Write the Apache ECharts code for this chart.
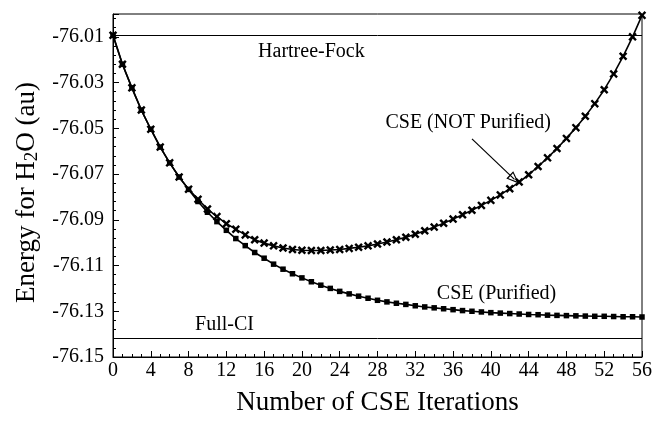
<!DOCTYPE html>
<html>
<head>
<meta charset="utf-8">
<script src="https://cdn.jsdelivr.net/npm/echarts@6/dist/echarts.min.js"></script>
<style>
html,body{margin:0;padding:0;background:#fff;}
#chart{width:655px;height:421px;}
</style>
</head>
<body>
<div id="chart"></div>
<script>
const iterations = Array.from({length: 57}, (_, i) => i);
const purified = [
  -76.0093, -76.0220, -76.0323, -76.0420, -76.0504, -76.0582, -76.0651, -76.0713, -76.0767,
  -76.0820, -76.0867, -76.0908, -76.0946, -76.0982, -76.1013, -76.1043, -76.1068, -76.1094,
  -76.1116, -76.1136, -76.1154, -76.1171, -76.1186, -76.1200, -76.1213, -76.1224, -76.1234,
  -76.1243, -76.1252, -76.1259, -76.1265, -76.1270, -76.1276, -76.1281, -76.1285, -76.1289,
  -76.1293, -76.1297, -76.1300, -76.1303, -76.1306, -76.1308, -76.1310, -76.1312, -76.1314,
  -76.1315, -76.1317, -76.1318, -76.1319, -76.1320, -76.1321, -76.1322, -76.1322, -76.1323,
  -76.1324, -76.1324, -76.1325
];
const notPurified = [
  -76.0093, -76.0220, -76.0323, -76.0420, -76.0504, -76.0582, -76.0651, -76.0713, -76.0766,
  -76.0810, -76.0853, -76.0886, -76.0917, -76.0941, -76.0966, -76.0987, -76.1002, -76.1014,
  -76.1023, -76.1030, -76.1033, -76.1034, -76.1034, -76.1032, -76.1030, -76.1025, -76.1020,
  -76.1014, -76.1006, -76.0997, -76.0987, -76.0976, -76.0963, -76.0948, -76.0932, -76.0915,
  -76.0897, -76.0878, -76.0858, -76.0837, -76.0815, -76.0791, -76.0764, -76.0735, -76.0703,
  -76.0667, -76.0629, -76.0588, -76.0544, -76.0497, -76.0447, -76.0392, -76.0331, -76.0262,
  -76.0185, -76.0100, -76.0006
];
const hartreeFock = -76.0092;
const fullCI = -76.1418;
const xTicks = {min: 0, max: 56, interval: 4};
const yTicks = {min: -76.15, max: -76.00, interval: 0.02};
const labels = [
  {text: 'Hartree-Fock', x: 21.0, y: -76.0167},
  {text: 'Full-CI', x: 11.8, y: -76.1361},
  {text: 'CSE (NOT Purified)', x: 37.6, y: -76.0477},
  {text: 'CSE (Purified)', x: 40.6, y: -76.1223}
];
const arrow = {from: [38.0, -76.0546], to: [42.5, -76.0723]};

const FONT = "'Liberation Serif', 'Times New Roman', serif";
const chart = echarts.init(document.getElementById('chart'));
const pair = (arr) => arr.map((v, i) => [iterations[i], v]);
const xShape = 'path://M0,2L2,0L5,3L8,0L10,2L7,5L10,8L8,10L5,7L2,10L0,8L3,5Z';
const hollowTri = 'path://M5,0L10,14L0,14ZM5,3.5L1.7,12.6L8.3,12.6Z';

chart.setOption({
  animation: false,
  backgroundColor: '#fff',
  grid: {left: 113, right: 12, top: 14, bottom: 60, show: true, borderColor: '#000', borderWidth: 1},
  xAxis: {
    type: 'value', min: xTicks.min, max: xTicks.max, interval: xTicks.interval,
    name: 'Number of CSE Iterations', nameLocation: 'middle', nameGap: 32,
    nameTextStyle: {fontFamily: FONT, fontSize: 27, color: '#000'},
    axisLine: {show: true, lineStyle: {color: '#000', width: 1}},
    axisTick: {show: true, inside: true, length: 6, lineStyle: {color: '#000'}},
    minorTick: {show: true, splitNumber: 4, length: 3, lineStyle: {color: '#000'}},
    axisLabel: {fontFamily: FONT, fontSize: 20, color: '#000', margin: 4},
    splitLine: {show: false}
  },
  yAxis: {
    type: 'value', min: yTicks.min, max: yTicks.max, interval: yTicks.interval,
    name: 'Energy for H{sub|2}O (au)', nameLocation: 'middle', nameGap: 71, nameRotate: 90,
    nameTextStyle: {fontFamily: FONT, fontSize: 27, color: '#000', padding: [0, 14, 0, 0],
      rich: {sub: {fontFamily: FONT, fontSize: 19, color: '#000', verticalAlign: 'bottom', padding: [10, 0, 0, 0]}}},
    axisLine: {show: true, lineStyle: {color: '#000', width: 1}},
    axisTick: {show: true, inside: true, length: 6, lineStyle: {color: '#000'}},
    minorTick: {show: true, splitNumber: 5, length: 3, lineStyle: {color: '#000'}},
    axisLabel: {fontFamily: FONT, fontSize: 20, color: '#000', margin: 9,
      formatter: (v) => (v > -76.005 ? '' : v.toFixed(2))},
    splitLine: {show: false}
  },
  series: [
    {
      type: 'line', data: pair(purified), symbol: 'rect', symbolSize: 5.5,
      lineStyle: {color: '#000', width: 1.6}, itemStyle: {color: '#000'}, z: 3,
      markLine: {
        silent: true, symbol: ['none', 'none'], label: {show: false},
        lineStyle: {color: '#000', width: 1, type: 'solid'},
        data: [
          [{coord: [xTicks.min, hartreeFock]}, {coord: [xTicks.max, hartreeFock]}],
          [{coord: [xTicks.min, fullCI]}, {coord: [xTicks.max, fullCI]}]
        ]
      },
      markPoint: {
        silent: true, symbol: 'circle', symbolSize: 0,
        label: {show: true, position: 'inside', fontFamily: FONT, fontSize: 20, color: '#000', formatter: (p) => p.name},
        data: labels.map(l => ({name: l.text, coord: [l.x, l.y]}))
      }
    },
    {
      type: 'line', data: pair(notPurified), symbol: xShape, symbolSize: 8.5,
      lineStyle: {color: '#000', width: 1.6}, itemStyle: {color: '#000'}, z: 4,
      markLine: {
        silent: true, symbol: ['none', hollowTri], symbolSize: [10, 13], label: {show: false},
        lineStyle: {color: '#000', width: 1.2, type: 'solid'},
        itemStyle: {color: '#000'},
        data: [[{coord: arrow.from}, {coord: arrow.to}]]
      }
    }
  ]
});
</script>
</body>
</html>
